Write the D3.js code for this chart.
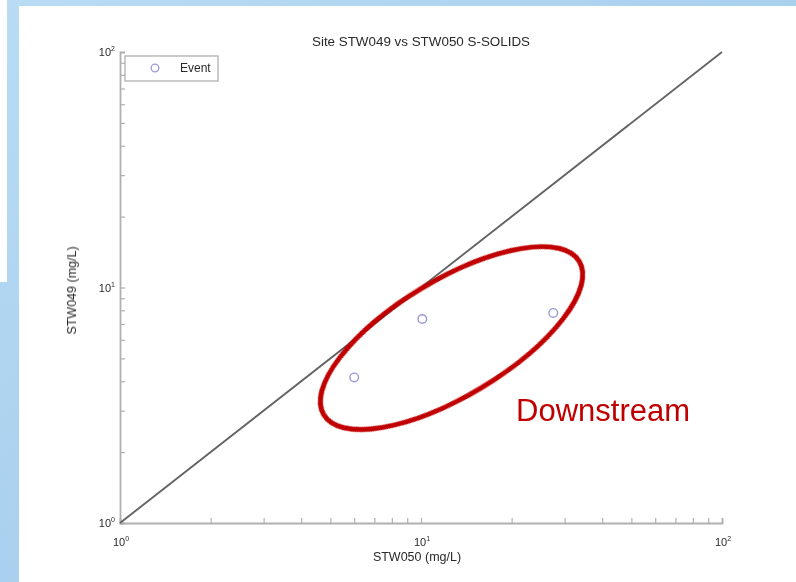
<!DOCTYPE html>
<html>
<head>
<meta charset="utf-8">
<script src="https://cdn.jsdelivr.net/npm/d3@7"></script>
<style>
html,body{margin:0;padding:0;background:#fff;}
svg{display:block;}
</style>
</head>
<body>
<svg id="chart" width="796" height="582"></svg>
<script>
// ---- data ----
const chartTitle = "Site STW049 vs STW050 S-SOLIDS";
const xLabel = "STW050 (mg/L)";
const yLabel = "STW049 (mg/L)";
const legendLabels = ["Event"];
const eventX = [6.0, 10.1, 27.5];
const eventY = [4.15, 7.35, 7.8];
const refLineX = [1, 100];
const refLineY = [1, 100];
const xDomain = [1, 100];
const yDomain = [1, 100];
const majorTicks = [1, 10, 100];
const majorExponents = ["0", "1", "2"];
const annotationText = "Downstream";
const annotationCenter = [12.63, 6.10];  // data units
const annotationTextPos = [20.7, 2.71];  // data units

// ---- drawing ----
const W = 796, H = 582;
const svg = d3.select("#chart");
const FONT = "Liberation Sans, Arial, Helvetica, sans-serif";

// slide background
const defs = svg.append("defs");
const grad = defs.append("linearGradient").attr("id","bg").attr("x1","0").attr("y1","0").attr("x2","1").attr("y2","1");
grad.append("stop").attr("offset","0").attr("stop-color","#b9dcf4");
grad.append("stop").attr("offset","0.5").attr("stop-color","#a9d0ee");
grad.append("stop").attr("offset","1").attr("stop-color","#b4d8f2");
defs.append("filter").attr("id","soft").append("feGaussianBlur").attr("stdDeviation","0.45");

svg.append("rect").attr("width",W).attr("height",H).attr("fill","url(#bg)");
svg.append("rect").attr("x",0).attr("y",0).attr("width",7).attr("height",282).attr("fill","#ffffff");
svg.append("rect").attr("x",19).attr("y",6).attr("width",W-19).attr("height",H-6).attr("fill","#ffffff");

const x = d3.scaleLog().domain(xDomain).range([120, 722]);
const y = d3.scaleLog().domain(yDomain).range([523, 52]);

const minorX = [];
for (let d = 1; d < 100; d *= 10) for (let k = 1; k <= 10; k++) minorX.push(d * k);
const allTicks = Array.from(new Set(minorX));

const g = svg.append("g").attr("filter","url(#soft)");

// axes
const xAxis = d3.axisBottom(x).tickValues(allTicks).tickSize(-5).tickFormat("");
const yAxis = d3.axisLeft(y).tickValues(allTicks).tickSize(-5).tickFormat("");
const gx = g.append("g").attr("transform", `translate(0,${y(yDomain[0])})`).call(xAxis);
const gy = g.append("g").attr("transform", `translate(${x(xDomain[0])},0)`).call(yAxis);
[gx, gy].forEach(a => {
  a.select(".domain").attr("stroke","#b0b0b0").attr("stroke-width",1.8);
  a.selectAll(".tick line").attr("stroke","#b0b0b0").attr("stroke-width",1.2);
});

// tick labels with superscripts
const lab = g.append("g").attr("font-family", FONT).attr("fill","#2a2a2a");
majorTicks.forEach((v, i) => {
  const tx = lab.append("text").attr("x", x(v) + 1).attr("y", y(yDomain[0]) + 23)
    .attr("text-anchor","middle").attr("font-size",11);
  tx.append("tspan").text("10");
  tx.append("tspan").attr("dy",-5).attr("font-size",7).text(majorExponents[i]);
  const ty = lab.append("text").attr("x", x(xDomain[0]) - 5).attr("y", y(v) + 4)
    .attr("text-anchor","end").attr("font-size",11);
  ty.append("tspan").text("10");
  ty.append("tspan").attr("dy",-5).attr("font-size",7).text(majorExponents[i]);
});

// title & axis labels
lab.append("text").attr("x", 421).attr("y", 46)
  .attr("text-anchor","middle").attr("font-size",13.4).text(chartTitle);
lab.append("text").attr("x", 417).attr("y", 561)
  .attr("text-anchor","middle").attr("font-size",12.5).text(xLabel);
lab.append("text").attr("transform", `translate(76,${(y(yDomain[0]) + y(yDomain[1]))/2 + 3}) rotate(-90)`)
  .attr("text-anchor","middle").attr("font-size",12.5).text(yLabel);

// reference 1:1 line
const line = d3.line().x(d => x(d[0])).y(d => y(d[1]));
g.append("path").datum(d3.zip(refLineX, refLineY)).attr("d", line)
  .attr("fill","none").attr("stroke","#626262").attr("stroke-width",1.8);

// event points
g.append("g").selectAll("circle").data(d3.zip(eventX, eventY)).join("circle")
  .attr("cx", d => x(d[0])).attr("cy", d => y(d[1])).attr("r", 4.3)
  .attr("fill","none").attr("stroke","#9a9ad6").attr("stroke-width",1.4);

// legend
const lg = g.append("g");
lg.append("rect").attr("x",125).attr("y",56).attr("width",93).attr("height",25)
  .attr("fill","#fff").attr("stroke","#b0b0b0").attr("stroke-width",1.3);
lg.append("circle").attr("cx",155).attr("cy",68).attr("r",3.8)
  .attr("fill","none").attr("stroke","#9a9ad6").attr("stroke-width",1.3);
lg.append("text").attr("x",180).attr("y",72).attr("font-size",12)
  .attr("font-family", FONT).attr("fill","#2a2a2a").text(legendLabels[0]);

// annotation ellipse and label
svg.append("ellipse")
  .attr("transform", `translate(${x(annotationCenter[0])},${y(annotationCenter[1])}) rotate(-31)`)
  .attr("rx",149).attr("ry",58)
  .attr("fill","none").attr("stroke","#c00000").attr("stroke-width",5);
svg.append("text").attr("x", x(annotationTextPos[0])).attr("y", y(annotationTextPos[1]))
  .attr("font-family", FONT).attr("font-size",31)
  .attr("fill","#c00000").text(annotationText);
</script>
</body>
</html>
